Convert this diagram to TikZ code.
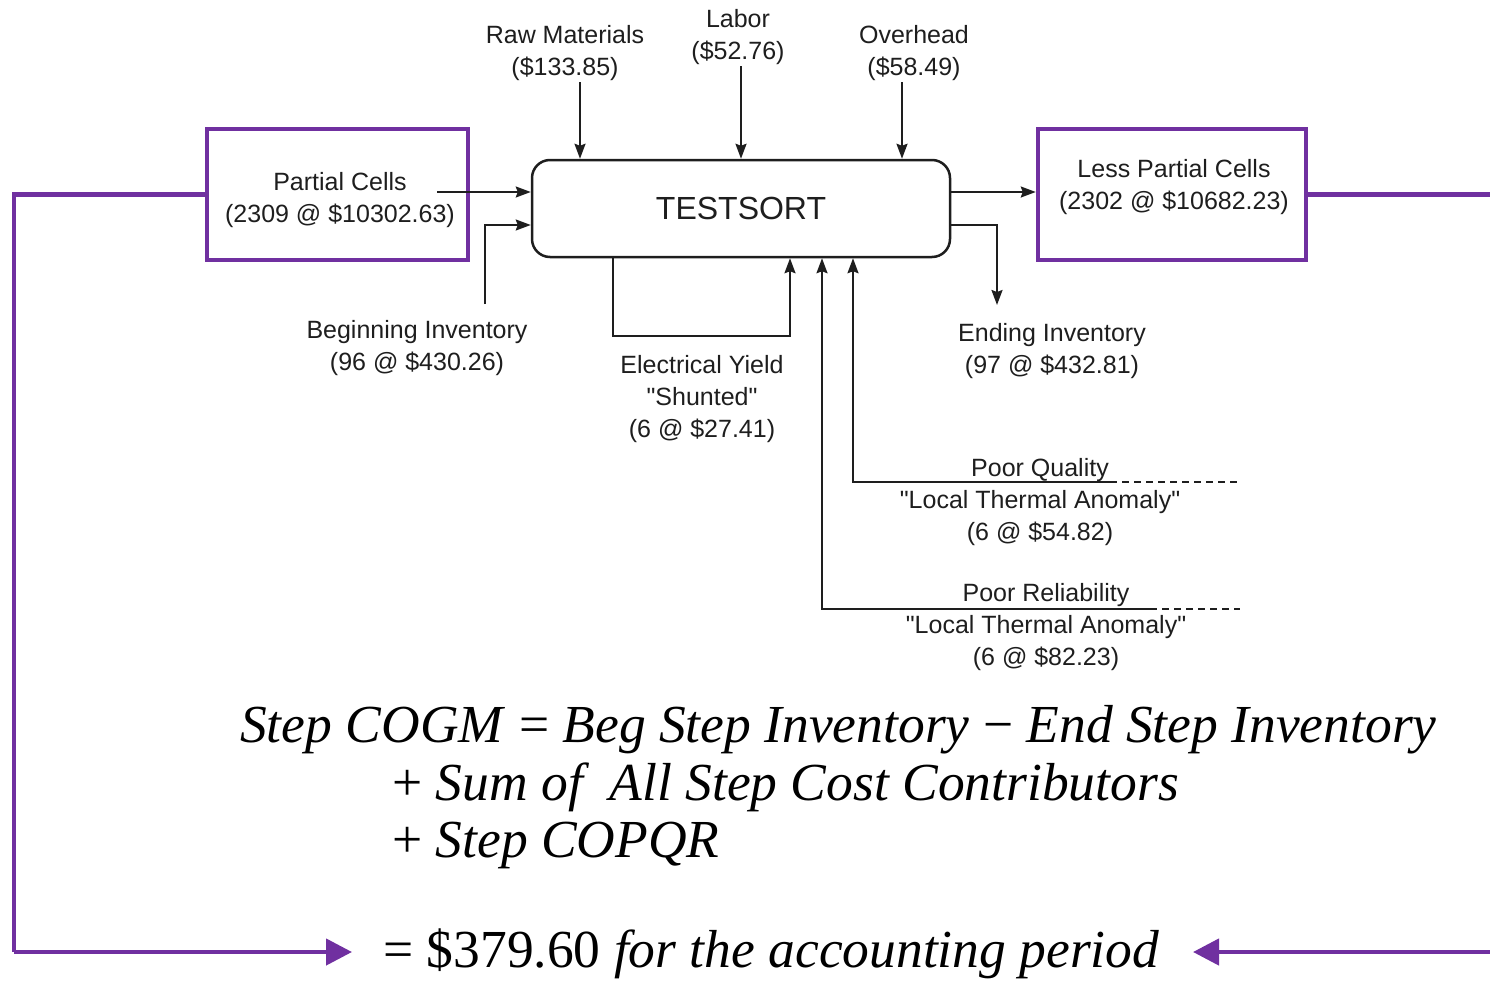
\documentclass[tikz,border=0pt]{standalone}
\usepackage{fontspec}
\setmainfont{Liberation Sans}[Ligatures=TeXOff]
\newfontfamily\eqfont{Liberation Serif}
\usetikzlibrary{arrows.meta}
\definecolor{pur}{HTML}{7030A0}
\definecolor{ink}{HTML}{1E1E1E}
\tikzset{
  lbl/.style={inner sep=0pt,align=center,text=ink,font=\fontsize{25}{32}\selectfont,anchor=north},
  pbox/.style={draw=pur,line width=4.5pt,inner sep=0pt},
  pline/.style={draw=pur,line width=4.5pt},
  parr/.style={pline,-{Triangle[length=26pt,width=26pt]}},
  arr/.style={draw=ink,line width=2pt,-{Stealth[length=15pt,width=11pt,inset=2pt]}},
  dsh/.style={draw=ink,line width=1.5pt,dash pattern=on 7pt off 5pt},
  eq/.style={inner sep=0pt,anchor=base west,text=black,font=\eqfont\fontsize{53.5}{60}\selectfont},
}
\begin{document}
\begin{tikzpicture}[x=1pt,y=-1pt]
\useasboundingbox (0,0) rectangle (1490,980);
% main process
\node[draw=ink,line width=2.5pt,rounded corners=18pt,minimum width=418pt,minimum height=97pt,inner sep=0pt,
      font=\fontsize{32}{36}\selectfont,text=ink] (ts) at (741,208.5) {TESTSORT};
% purple boxes
\node[pbox,minimum width=261pt,minimum height=131pt] (lbox) at (337.5,194.5) {};
\node[pbox,minimum width=268pt,minimum height=131pt] (rbox) at (1172,194.5) {};
% labels
\node[lbl] (raw) at (565,25) {Raw Materials\\(\$133.85)};
\node[lbl] (lab) at (738,9) {Labor\\(\$52.76)};
\node[lbl] (ovh) at (914,25) {Overhead\\(\$58.49)};
\node[lbl] (pc) at (340,172) {Partial Cells\\(2309 @ \$10302.63)};
\node[lbl] (lpc) at (1174,159) {Less Partial Cells\\(2302 @ \$10682.23)};
\node[lbl] (beg) at (417,320) {Beginning Inventory\\(96 @ \$430.26)};
\node[lbl] (end) at (1052,323) {Ending Inventory\\(97 @ \$432.81)};
\node[lbl] (ey) at (702,355) {Electrical Yield\\"Shunted"\\(6 @ \$27.41)};
\node[lbl] (pq) at (1040,458) {Poor Quality\\"Local Thermal Anomaly"\\(6 @ \$54.82)};
\node[lbl] (pr) at (1046,583) {Poor Reliability\\"Local Thermal Anomaly"\\(6 @ \$82.23)};
% coordinates
\coordinate (rawS) at (580,82);
\coordinate (labS) at (741,66);
\coordinate (ovhS) at (902,82);
\coordinate (pcS) at (437,192);
\coordinate (begS) at (485,304);
\coordinate (lowY) at (0,225);
\coordinate (endE) at (997,305);
\coordinate (pqS) at (1240,482);
\coordinate (prS) at (1240,609);
\coordinate (pqM) at (1110,482);
\coordinate (prM) at (1150,609);
\coordinate (eyB) at (613,336);
% top inputs
\draw[arr] (rawS) -- (rawS |- ts.north);
\draw[arr] (labS) -- (labS |- ts.north);
\draw[arr] (ovhS) -- (ovhS |- ts.north);
% left inputs
\draw[arr] (pcS) -- (pcS -| ts.west);
\draw[arr] (begS) |- (lowY -| ts.west);
% outputs
\draw[arr] (pcS -| ts.east) -- (pcS -| rbox.west);
\draw[arr] (lowY -| ts.east) -| (endE);
% electrical yield loop
\draw[arr] (eyB |- ts.south) -- (eyB) -| (ts.south -| 790,0);
% poor quality / reliability
\draw[arr] (pqM) -| (ts.south -| 853,0);
\draw[dsh] (pqM) -- (pqS);
\draw[arr] (prM) -| (ts.south -| 822,0);
\draw[dsh] (prM) -- (prS);
% purple feedback lines
\coordinate (lcorner) at (14,952);
\coordinate (ltip) at (352,952);
\coordinate (redge) at (1490,194.5);
\coordinate (redge2) at (1490,952);
\coordinate (rtip) at (1193,952);
\draw[pline] (lbox.west) -| (lcorner);
\draw[parr] (lcorner) -- (ltip);
\draw[pline] (rbox.east) -- (redge);
\draw[parr] (redge2) -- (rtip);
% equation
\node[eq] (e1) at (240,742) {\textit{Step COGM} = \textit{Beg Step Inventory} − \textit{End Step Inventory}};
\node[eq] (e2) at (392,800) {+ \textit{Sum of\ \ All Step Cost Contributors}};
\node[eq] (e3) at (392,857) {+ \textit{Step COPQR}};
\node[eq] (e4) at (383,967) {= \$379.60 \textit{for the accounting period}};
\end{tikzpicture}
\end{document}
